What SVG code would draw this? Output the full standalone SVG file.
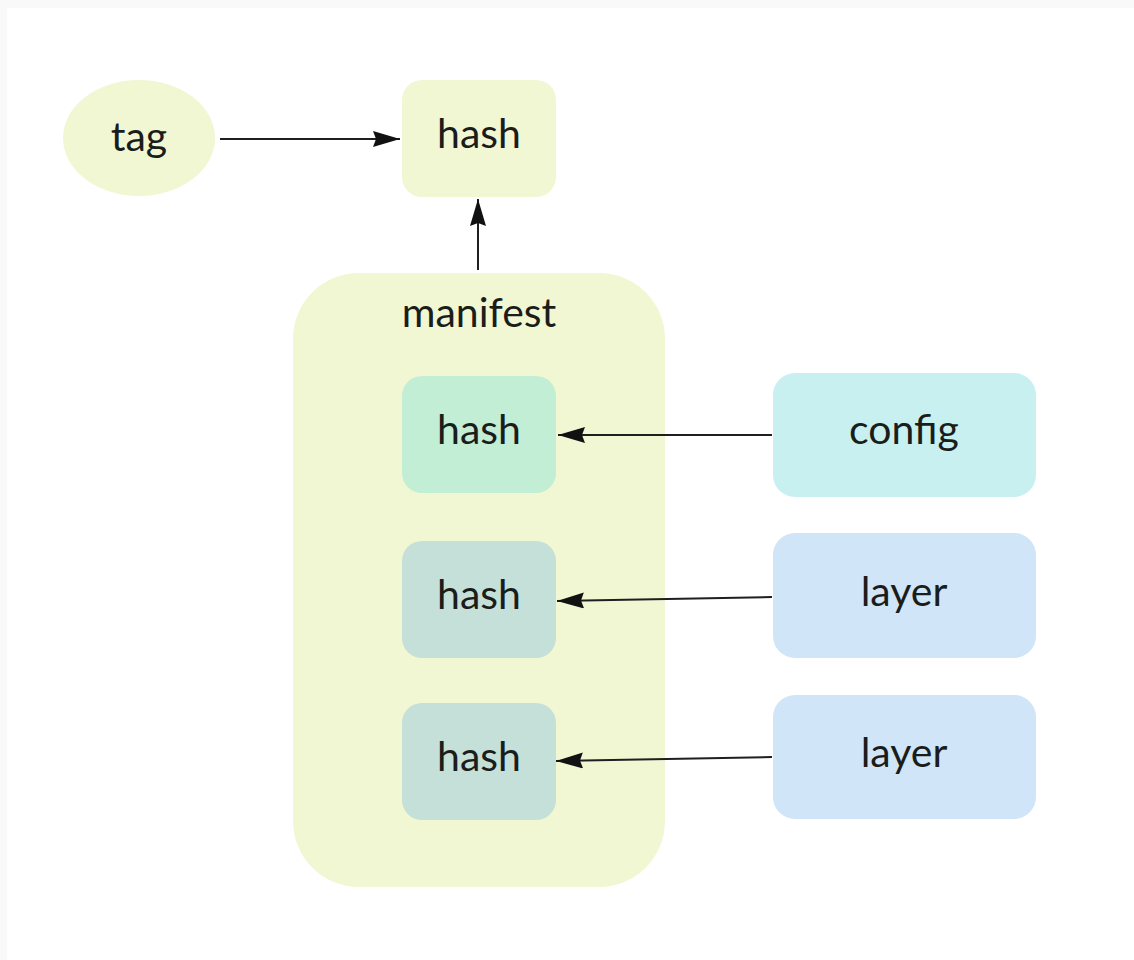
<svg xmlns="http://www.w3.org/2000/svg" width="1134" height="960" viewBox="0 0 1134 960">
  <style>
    .lbl { font-family: Lato, "Liberation Sans", sans-serif; font-size: 41px; fill: #1b1d1b; text-anchor: middle; }
    .pale { fill: #f1f7d3; }
    .mint { fill: #c1eed5; }
    .teal { fill: #c4e0d8; }
    .cyan { fill: #c9f0f1; }
    .blue { fill: #d0e5f8; }
    .edge { stroke: #1f1f1f; stroke-width: 2; fill: none; marker-end: url(#arrow); }
  </style>
  <defs>
    <marker id="arrow" markerUnits="userSpaceOnUse" markerWidth="30" markerHeight="18" refX="27" refY="8" orient="auto">
      <path d="M0,0 L27,8 L0,16 L3,8 z" fill="#111"/>
    </marker>
  </defs>

  <!-- page background with a faint frame along the top and left -->
  <rect x="0" y="0" width="1134" height="960" fill="#ffffff"/>
  <rect x="0" y="0" width="1134" height="8" fill="#f9f9f9"/>
  <rect x="0" y="0" width="7" height="960" fill="#f9f9f9"/>

  <g id="tag">
    <ellipse class="pale" cx="139" cy="138" rx="76" ry="58"/>
    <text class="lbl" x="139" y="151">tag</text>
  </g>

  <g id="image-hash">
    <rect class="pale" x="402" y="80" width="154" height="117" rx="20"/>
    <text class="lbl" x="479" y="148">hash</text>
  </g>

  <g id="manifest">
    <rect class="pale" x="293" y="273" width="372" height="614" rx="66"/>
    <text class="lbl" x="479" y="327">manifest</text>
  </g>

  <g id="config-hash">
    <rect class="mint" x="402" y="376" width="154" height="117" rx="20"/>
    <text class="lbl" x="479" y="444">hash</text>
  </g>

  <g id="layer1-hash">
    <rect class="teal" x="402" y="541" width="154" height="117" rx="20"/>
    <text class="lbl" x="479" y="609">hash</text>
  </g>

  <g id="layer2-hash">
    <rect class="teal" x="402" y="703" width="154" height="117" rx="20"/>
    <text class="lbl" x="479" y="771">hash</text>
  </g>

  <g id="config">
    <rect class="cyan" x="773" y="373" width="263" height="124" rx="22"/>
    <text class="lbl" x="904" y="444">config</text>
  </g>

  <g id="layer1">
    <rect class="blue" x="773" y="533" width="263" height="125" rx="22"/>
    <text class="lbl" x="904" y="606">layer</text>
  </g>

  <g id="layer2">
    <rect class="blue" x="773" y="695" width="263" height="124" rx="22"/>
    <text class="lbl" x="904" y="767">layer</text>
  </g>

  <g id="connectors">
    <line class="edge" x1="220" y1="139" x2="400" y2="139"/>
    <line class="edge" x1="478" y1="270" x2="478" y2="199"/>
    <line class="edge" x1="772" y1="435" x2="558" y2="435"/>
    <line class="edge" x1="772" y1="597" x2="557" y2="601"/>
    <line class="edge" x1="772" y1="757" x2="556" y2="761"/>
  </g>
</svg>
